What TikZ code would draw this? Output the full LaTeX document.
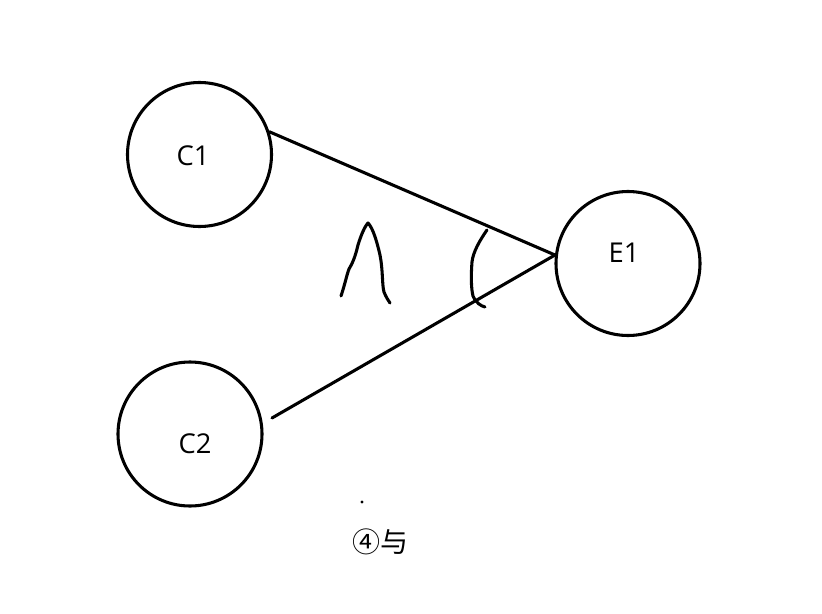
\documentclass[tikz,border=0pt]{standalone}
\usepackage{fontspec}
\setmainfont{Open Sans}
\newfontfamily\cjk{Noto Sans CJK SC}
\usetikzlibrary{positioning}

\tikzset{
  ent/.style={circle,draw,line width=2.3pt,minimum size=108pt,inner sep=0pt},
  lab/.style={font=\fontsize{20.5}{24}\selectfont},
  pen/.style={line width=2.3pt,line cap=round,line join=round}
}

\begin{document}
\begin{tikzpicture}[x=0.75pt,y=-0.75pt]
\useasboundingbox (0,0) rectangle (822,614);

% Entities
\node[ent] (C1) at (199.5,154.5) {};
\node[ent] (C2) at (190,434) {};
\node[ent] (E1) at (628,263.5) {};
\node[lab] (C1lab) at (193,156) {C1};
\node[lab] (C2lab) at (195,444) {C2};
\node[lab] (E1lab) at (624,253) {E1};

% Connectors
\coordinate (meet) at (555,255);
\coordinate (C2end) at (272,418);
\draw[pen] (C1.18) -- (meet);
\draw[pen] (C2end) -- (meet);

% Hand strokes
\draw[pen] (341,296) .. controls (345,284) and (347,274) .. (349,269)
  .. controls (352,264) and (355,258) .. (358,245)
  .. controls (361,235) and (365,226) .. (368,223)
  .. controls (373,228) and (377,242) .. (380,255)
  .. controls (383,270) and (382,285) .. (384,292)
  .. controls (386,297) and (388,300) .. (390,303);
\draw[pen] (487,230) .. controls (480,240) and (473,252) .. (472,262)
  .. controls (471,275) and (471,288) .. (473,296)
  .. controls (476,303) and (481,306) .. (485,307);

% Note
\fill (362,502) circle (1.6);
\node[font=\cjk\fontsize{21}{24}\selectfont] (note) at (380,542) {④与};
\end{tikzpicture}
\end{document}
